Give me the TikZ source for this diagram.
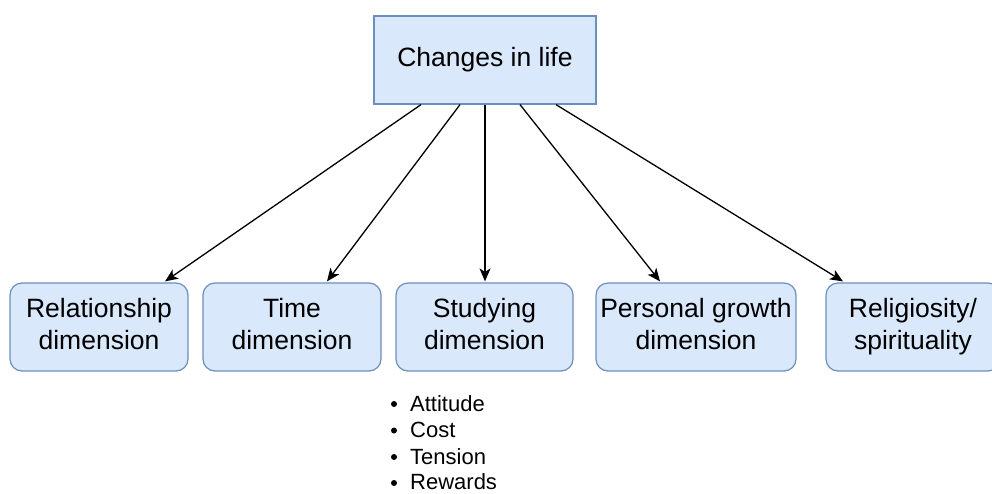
\documentclass[tikz,border=0pt]{standalone}
\usepackage{fontspec}
\setmainfont{Liberation Sans}
\usetikzlibrary{arrows.meta,calc}
\definecolor{boxfill}{HTML}{DAE8FC}
\definecolor{boxline}{HTML}{6C8EBF}
\begin{document}
\begin{tikzpicture}[x=1pt,y=-1pt,
  topbox/.style={draw=boxline,fill=boxfill,line width=1.2pt,minimum width=222pt,minimum height=88pt,inner sep=0pt,font=\fontsize{26.5}{32}\selectfont},
  dimbox/.style={draw=boxline,fill=boxfill,line width=1.2pt,rounded corners=12pt,minimum height=88pt,inner sep=0pt,align=center,font=\fontsize{26.5}{32}\selectfont},
  conn/.style={draw=black,line width=1.3pt,-{Stealth[length=13pt,width=11pt,inset=3.5pt]}},
  itemtext/.style={anchor=base west,inner sep=0pt,font=\fontsize{22}{26}\selectfont},
  dot/.style={circle,fill=black,inner sep=0pt,minimum size=6pt}]
\clip (0,0) rectangle (992,493);
\fill[white] (0,0) rectangle (992,493);

\node[topbox] (top) at (485,60) {Changes in life};

\node[dimbox,minimum width=178pt] (rel) at (99,327) {Relationship\strut\\dimension\strut};
\node[dimbox,minimum width=178pt] (time) at (292,327) {Time\strut\\dimension\strut};
\node[dimbox,minimum width=177pt] (study) at (484.5,327) {Studying\strut\\dimension\strut};
\node[dimbox,minimum width=200pt] (pers) at (696,327) {Personal growth\strut\\dimension\strut};
\node[dimbox,minimum width=174pt] (relig) at (913,327) {Religiosity/\strut\\spirituality\strut};

\draw[conn] ($(top.south)+(-64,0)$) -- ($(rel.north)+(66,-1)$);
\draw[conn] ($(top.south)+(-25,0)$) -- ($(time.north)+(35,-1)$);
\draw[conn] (top.south) -- ($(study.north)+(0.5,-1)$);
\draw[conn] ($(top.south)+(35,0)$) -- ($(pers.north)+(-36,-1)$);
\draw[conn] ($(top.south)+(71,0)$) -- ($(relig.north)+(-70,-1)$);

\node[dot] (d1) at (394,404) {};
\node[dot] (d2) at (394,430.5) {};
\node[dot] (d3) at (394,457) {};
\node[dot] (d4) at (394,483) {};
\node[itemtext] (i1) at (410,411) {Attitude};
\node[itemtext] (i2) at (410,437.5) {Cost};
\node[itemtext] (i3) at (410,464) {Tension};
\node[itemtext] (i4) at (410,489.5) {Rewards};
\end{tikzpicture}
\end{document}
